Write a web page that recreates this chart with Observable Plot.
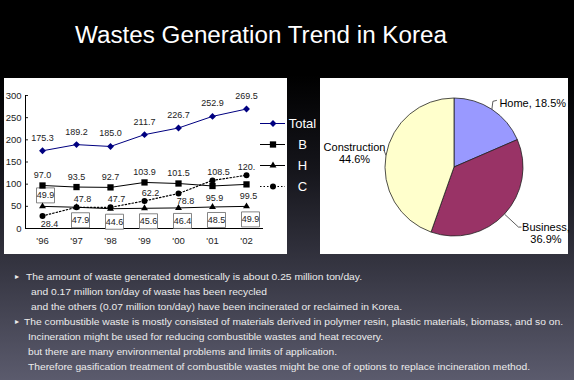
<!DOCTYPE html>
<html><head><meta charset="utf-8">
<script src="https://cdn.jsdelivr.net/npm/d3@7"></script>
<script src="https://cdn.jsdelivr.net/npm/@observablehq/plot@0.6"></script>
<style>
html,body{margin:0;padding:0;}
body{width:574px;height:380px;overflow:hidden;position:relative;
 background:linear-gradient(to bottom,#000 0px,#000 75px,#15151b 170px,#33333f 260px,#5b5b6d 380px);
 font-family:"Liberation Sans",Arial,sans-serif;}
.abs{position:absolute;}
.panel{position:absolute;background:#fff;}
svg{display:block;}
</style></head><body>
<svg id="page" class="abs" style="left:0;top:0" width="574" height="380"></svg>
<div class="panel" id="linePanel" style="left:4px;top:78px;width:283px;height:176px"></div>
<div class="panel" id="piePanel" style="left:320px;top:78px;width:248px;height:176px"></div>
<div id="legend" class="abs" style="left:256px;top:112px"></div>
<script>
// ---------- data ----------
const years = ["'96","'97","'98","'99","'00","'01","'02"];
const seriesNames = ["Total","B","H","C"];
const totalValues = [175.3,189.2,185.0,211.7,226.7,252.9,269.5];
const bValues = [97.0,93.5,92.7,103.9,101.5,95.9,99.5];
const hValues = [49.9,47.9,44.6,45.6,46.4,48.5,49.9];
const cValues = [28.4,47.8,47.7,62.2,78.8,108.5,120.1];
const cLabels = ["28.4","47.8","47.7","62.2","78.8","108.5","120."];
const yTicks = [0,50,100,150,200,250,300];
const pieCategories = ["Home","Business","Construction"];
const pieShares = [18.5,36.9,44.6];
const pieLabels = ["Home, 18.5%","Business,\n36.9%","Construction\n44.6%"];
const titleText = "Wastes Generation Trend in Korea";
const noteLines = [
 "The amount of waste generated domestically is about 0.25 million ton/day.",
 "and 0.17 million ton/day of waste has been recycled",
 "and the others (0.07 million ton/day) have been incinerated or reclaimed in Korea.",
 "The combustible waste is mostly consisted of materials derived in polymer resin, plastic materials, biomass, and so on.",
 "Incineration might be used for reducing combustible wastes and heat recovery.",
 "but there are many environmental problems and limits of application.",
 "Therefore gasification treatment of combustible wastes might be one of options to replace incineration method."
];

// ---------- styles ----------
const FONT = "'Liberation Sans', Arial, sans-serif";
const seriesStyle = {
 Total:{color:"#000080", symbol:"diamond2", r:3.1},
 B:{color:"#000", symbol:"square2", r:4},
 H:{color:"#000", symbol:"triangle2", r:3.3},
 C:{color:"#000", symbol:"circle", r:3}
};
const seriesValues = [totalValues,bValues,hValues,cValues];
const seriesLabels = [totalValues.map(v=>v.toFixed(1)), bValues.map(v=>v.toFixed(1)), hValues.map(v=>v.toFixed(1)), cLabels];
const rows = [];
seriesNames.forEach((s,si)=>seriesValues[si].forEach((v,i)=>rows.push({series:s, year:years[i], value:v, i, label:seriesLabels[si][i]})));
const S = s => rows.filter(d=>d.series===s);
const boxSymbol = {draw(ctx){ ctx.rect(-9,-7.5,18,15); }};

// ---------- page texts ----------
const page = d3.select("#page");
page.append("text").attr("x",75).attr("y",43).attr("fill","#fff")
 .attr("font-family",FONT).attr("font-size",23.5).attr("textLength",372).attr("lengthAdjust","spacingAndGlyphs").text(titleText);
const noteX = [26,31,31,24,28,28,28];
const noteEnd = [362,267,402,563,383,337,530];
noteLines.forEach((t,i)=>{
 page.append("text").attr("x",noteX[i]).attr("y",280+i*15).attr("fill","#ececec")
  .attr("font-family",FONT).attr("font-size",9.6)
  .attr("textLength",noteEnd[i]-noteX[i]).attr("lengthAdjust","spacingAndGlyphs").text(t);
});
[0,3].forEach(i=>page.append("text").attr("x",15).attr("y",279+i*15).attr("fill","#ececec")
 .attr("font-size",8).attr("font-family","DejaVu Sans").text("\u25B8"));

// ---------- line chart ----------
const txt = {fill:"#222", fontSize:9};
const lineChart = Plot.plot({
 width:283, height:176, marginLeft:21, marginRight:24, marginTop:17, marginBottom:26,
 style:{background:"transparent", fontFamily:FONT, fontSize:"9.5px", color:"#222"},
 x:{type:"point", domain:years, padding:0.5, label:null},
 y:{domain:[0,300], label:null},
 marks:[
  Plot.axisY({ticks:yTicks, tickSize:-3, tickPadding:7, label:null, fontSize:9.5}),
  Plot.axisX({tickSize:0, tickPadding:9, label:null, fontSize:9.5}),
  Plot.ruleY([0], {stroke:"#000"}),
  Plot.frame({anchor:"left", stroke:"#000"}),
  Plot.line(rows.filter(d=>d.series!=="C"), {x:"year", y:"value", z:"series", stroke:d=>seriesStyle[d.series].color, strokeWidth:1}),
  Plot.line(S("C"), {x:"year", y:"value", stroke:"#000", strokeWidth:1.2, strokeDasharray:"1.5 2"}),
  Plot.dot(S("H").filter(d=>d.i===0), {x:"year", y:"value", symbol:boxSymbol, r:5, fill:"#fff", stroke:"#666", strokeWidth:0.8, dx:3, dy:-11}),
  Plot.dot(S("H").filter(d=>d.i>0), {x:"year", y:"value", symbol:boxSymbol, r:5, fill:"#fff", stroke:"#666", strokeWidth:0.8, dx:4, dy:13}),
  ...seriesNames.map(s=>Plot.dot(S(s), {x:"year", y:"value", symbol:seriesStyle[s].symbol, r:seriesStyle[s].r, fill:seriesStyle[s].color, stroke:"none"})),
  Plot.text(S("Total"), {x:"year", y:"value", text:"label", dy:-13, ...txt}),
  Plot.text(S("B").filter(d=>d.i<5), {x:"year", y:"value", text:"label", dy:-10, ...txt}),
  Plot.text(S("B").filter(d=>d.i>=5), {x:"year", y:"value", text:"label", dy:12, dx:2, ...txt}),
  Plot.text(S("C").filter(d=>[1,2,3,5].includes(d.i)), {x:"year", y:"value", text:"label", dy:-8, dx:6, ...txt}),
  Plot.text(S("C").filter(d=>d.i===6), {x:"year", y:"value", text:"label", dy:-8, dx:0, ...txt}),
  Plot.text(S("C").filter(d=>[0,4].includes(d.i)), {x:"year", y:"value", text:"label", dy:8, dx:7, ...txt}),
  Plot.text(S("H").filter(d=>d.i===0), {x:"year", y:"value", text:"label", dy:-11, dx:3, ...txt}),
  Plot.text(S("H").filter(d=>d.i>0), {x:"year", y:"value", text:"label", dy:13, dx:4, ...txt})
 ]
});
document.getElementById("linePanel").append(lineChart);

// ---------- legend ----------
const legend = Plot.plot({
 width:70, height:85, marginLeft:4, marginRight:41, marginTop:11, marginBottom:11,
 style:{background:"transparent", fontFamily:FONT, overflow:"visible"},
 y:{type:"point", domain:seriesNames, padding:0, axis:null},
 marks:[
  ...seriesNames.map(s=>Plot.tickY([s], {y:d=>d, stroke:seriesStyle[s].color, strokeWidth:1, strokeDasharray:s==="C"?"1.5 2":null})),
  ...seriesNames.map(s=>Plot.dot([s], {y:d=>d, frameAnchor:"middle", symbol:seriesStyle[s].symbol, r:seriesStyle[s].r, fill:seriesStyle[s].color})),
  Plot.text(seriesNames, {y:d=>d, text:d=>d, frameAnchor:"right", dx:17, textAnchor:"middle", fill:"#fff", fontSize:13})
 ]
});
document.getElementById("legend").append(legend);

// ---------- pie ----------
const pieColors = ["#9999FF","#993366","#FFFFCC"];
const pieRows = pieCategories.map((c,i)=>({category:c, share:pieShares[i], label:pieLabels[i], i}));
const arcs = d3.pie().sort(null).value(d=>d.share)(pieRows);
const pieData = arcs.map(a=>{const mid=(a.startAngle+a.endAngle)/2; return {...a.data, arc:a, ex:Math.sin(mid), ey:Math.cos(mid)};});
const leaderOffsets = [[[1,-8],[5,-9]],[[14,13],[17,13]],[[-2,-5]]];
const pieChart = Plot.plot({
 width:248, height:176, marginLeft:65, marginRight:45, marginTop:20, marginBottom:18,
 style:{background:"transparent", fontFamily:FONT, overflow:"visible"},
 x:{domain:[-1,1], axis:null}, y:{domain:[-1,1], axis:null},
 marks:[
  (index, scales) => {
   const cx = scales.x(0), cy = scales.y(0), r = scales.x(1) - scales.x(0);
   const g = d3.create("svg:g");
   const arcGen = d3.arc().innerRadius(0).outerRadius(r);
   g.selectAll("path").data(pieData).join("path")
    .attr("transform",`translate(${cx},${cy})`)
    .attr("d",d=>arcGen(d.arc)).attr("fill",d=>pieColors[d.i]).attr("stroke","#222").attr("stroke-width",0.8);
   pieData.forEach((d,k)=>{
    const px = scales.x(d.ex), py = scales.y(d.ey);
    const pts = [[px,py], ...leaderOffsets[k].map(([ox,oy])=>[px+ox,py+oy])];
    g.append("path").attr("d", d3.line()(pts)).attr("fill","none").attr("stroke","#333").attr("stroke-width",0.8);
   });
   return g.node();
  },
  Plot.text(pieData.filter(d=>d.i===0), {x:"ex", y:"ey", text:"label", textAnchor:"start", dx:7, dy:-6, fontSize:11, fill:"#000"}),
  Plot.text(pieData.filter(d=>d.i===1), {x:"ex", y:"ey", text:"label", textAnchor:"middle", lineAnchor:"top", lineHeight:1.1, dx:41, dy:7.5, fontSize:11, fill:"#000"}),
  Plot.text(pieData.filter(d=>d.i===2), {x:"ex", y:"ey", text:"label", textAnchor:"middle", lineAnchor:"top", lineHeight:1.1, dx:-32, dy:-13.5, fontSize:11, fill:"#000"})
 ]
});
document.getElementById("piePanel").append(pieChart);
</script>
</body></html>
